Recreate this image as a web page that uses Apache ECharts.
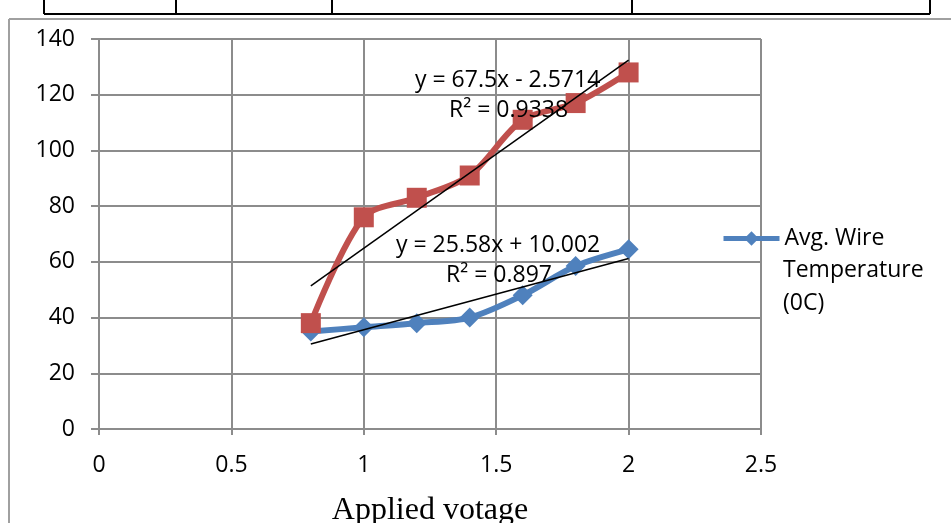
<!DOCTYPE html>
<html>
<head>
<meta charset="utf-8">
<script src="https://cdn.jsdelivr.net/npm/echarts@6/dist/echarts.min.js"></script>
<style>
  html, body { margin: 0; padding: 0; background: #fff; }
  #chart { width: 951px; height: 523px; }
</style>
</head>
<body>
<div id="chart"></div>
<script>
// applied voltage vs temperature
const voltage = [0.8, 1.0, 1.2, 1.4, 1.6, 1.8, 2.0]
const wireTemp = [35, 36.5, 38, 40, 48, 58.5, 64.5]
const otherTemp = [38, 76, 83, 91, 111, 117, 128]
// trendline end points (x 0.8 .. 2.0)
const wireTrend = [[0.8, 30.5], [2.0, 61.2]]
const otherTrend = [[0.8, 51.4], [2.0, 132.4]]
const xTicks = [0, 0.5, 1, 1.5, 2, 2.5]
const yTicks = [0, 20, 40, 60, 80, 100, 120, 140]

const gridColor = '#8c8c8c'
const font = 'Open Sans'
const legendName = 'Avg. Wire Temperature (0C)'

const myChart = echarts.init(document.getElementById('chart'))

const pair = (xs, ys) => xs.map((x, i) => [x, ys[i]])

// plain text helper (equations, legend continuation lines)
const txt = (text, x, y) => ({
  type: 'text', x: x, y: y, z: 10,
  style: { text: text, fontSize: 23, fontFamily: font, fill: '#000', verticalAlign: 'middle' }
})
const rule = (x1, y1, x2, y2, color) => ({
  type: 'line', z: 0, shape: { x1, y1, x2, y2 }, style: { stroke: color, lineWidth: 2 }
})

const option = {
  backgroundColor: '#fff',
  animation: false,
  textStyle: { fontFamily: font },
  grid: { left: 99, top: 39, right: 190, bottom: 94, outerBoundsMode: 'none' },
  legend: {
    data: [legendName],
    left: 716,
    top: 222,
    orient: 'vertical',
    itemWidth: 56,
    itemHeight: 18,
    lineStyle: { width: 5 },
    formatter: () => 'Avg. Wire',
    textStyle: { fontSize: 23, color: '#000', fontFamily: font }
  },
  xAxis: {
    type: 'value',
    min: xTicks[0],
    max: xTicks[xTicks.length - 1],
    interval: 0.5,
    name: 'Applied votage',
    nameLocation: 'middle',
    nameGap: 66,
    nameTextStyle: { fontFamily: 'Liberation Serif', fontSize: 32, color: '#000' },
    axisLine: { lineStyle: { color: gridColor, width: 2 } },
    axisTick: { show: true, length: 6, lineStyle: { color: gridColor, width: 2 } },
    axisLabel: { fontSize: 23, color: '#000', margin: 25 },
    splitLine: { show: true, lineStyle: { color: gridColor, width: 2 } }
  },
  yAxis: {
    type: 'value',
    min: yTicks[0],
    max: yTicks[yTicks.length - 1],
    interval: 20,
    axisLine: { show: true, lineStyle: { color: gridColor, width: 2 } },
    axisTick: { show: true, length: 8, lineStyle: { color: gridColor, width: 2 } },
    axisLabel: { fontSize: 23, color: '#000', margin: 24 },
    splitLine: { show: true, lineStyle: { color: gridColor, width: 2 } }
  },
  series: [
    {
      name: legendName,
      type: 'line',
      smooth: 0.3,
      symbol: 'diamond',
      symbolSize: 20,
      lineStyle: { color: '#4F81BD', width: 6 },
      itemStyle: { color: '#4F81BD' },
      z: 3,
      data: pair(voltage, wireTemp)
    },
    {
      name: 'other',
      type: 'line',
      smooth: 0.3,
      symbol: 'rect',
      symbolSize: 20,
      lineStyle: { color: '#C0504D', width: 6 },
      itemStyle: { color: '#C0504D' },
      z: 3,
      data: pair(voltage, otherTemp)
    },
    {
      name: 'trend1',
      type: 'line',
      symbol: 'none',
      lineStyle: { color: '#000', width: 1.5 },
      z: 4,
      data: wireTrend
    },
    {
      name: 'trend2',
      type: 'line',
      symbol: 'none',
      lineStyle: { color: '#000', width: 1.5 },
      z: 4,
      data: otherTrend
    }
  ],
  graphic: [
    txt('y = 67.5x - 2.5714', 415, 80),
    txt('R² = 0.9338', 449, 110),
    txt('y = 25.58x + 10.002', 396, 245),
    txt('R² = 0.897', 446, 275),
    txt('Temperature', 783, 270),
    txt('(0C)', 783, 303),
    // document border bits
    rule(9, 19, 951, 19, '#a0a0a0'),
    rule(9, 19, 9, 523, '#a0a0a0'),
    rule(44, 14, 930, 14, '#000'),
    rule(44, 0, 44, 14, '#000'),
    rule(176, 0, 176, 14, '#000'),
    rule(332, 0, 332, 14, '#000'),
    rule(632, 0, 632, 14, '#000'),
    rule(930, 0, 930, 14, '#000')
  ]
}

myChart.setOption(option)
</script>
</body>
</html>
